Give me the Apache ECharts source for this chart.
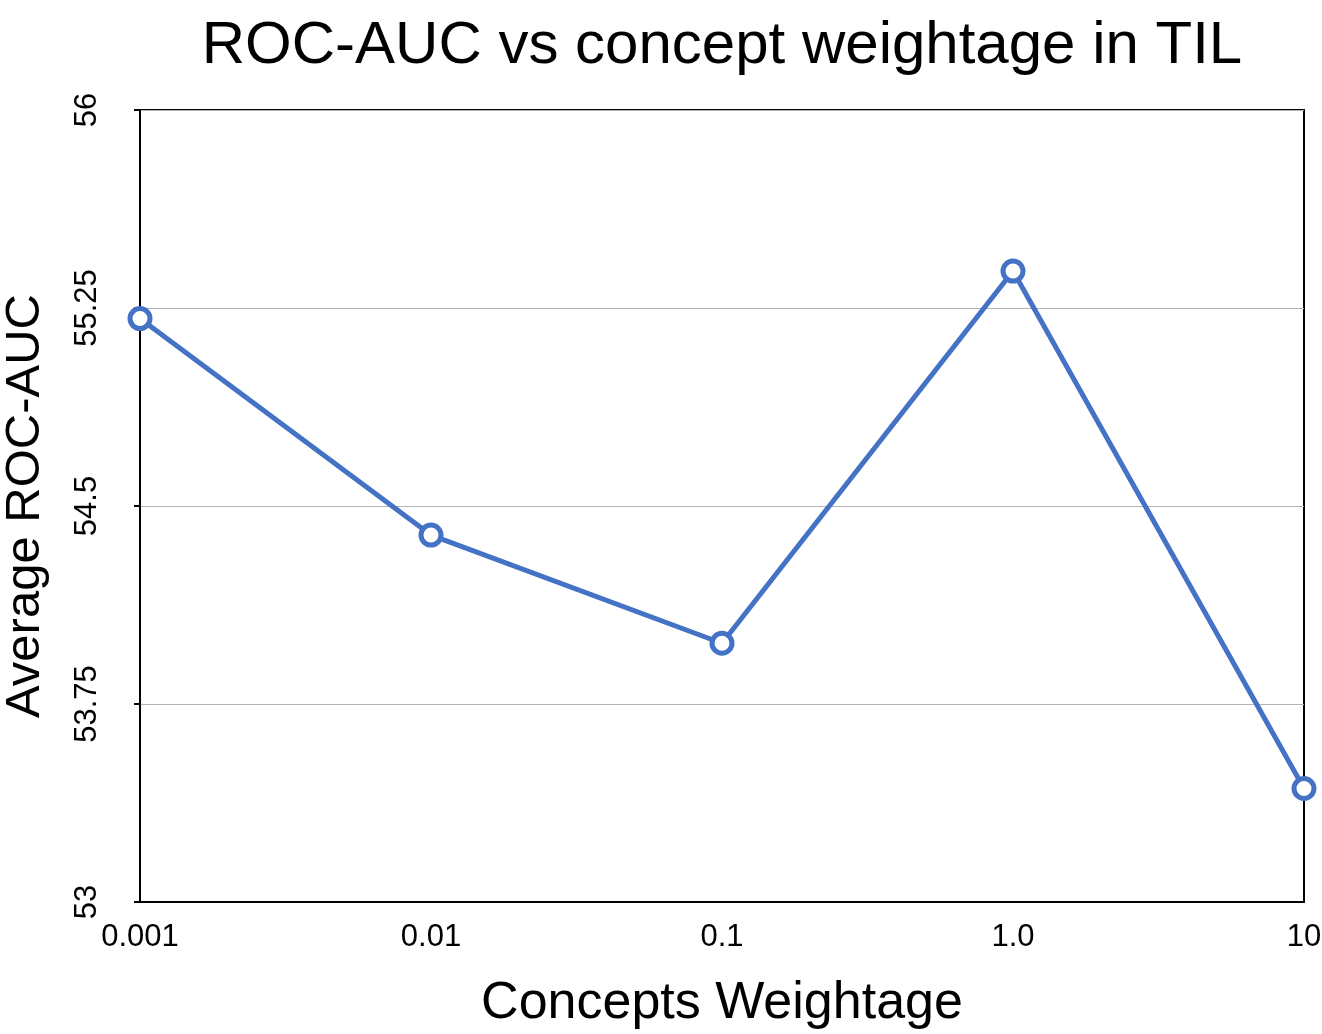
<!DOCTYPE html>
<html>
<head>
<meta charset="utf-8">
<title>ROC-AUC vs concept weightage in TIL</title>
<script src="https://cdn.jsdelivr.net/npm/echarts@6/dist/echarts.min.js"></script>
<style>
  html, body { margin: 0; padding: 0; background: #fff; }
  #chart { width: 1322px; height: 1034px; }
</style>
</head>
<body>
<div id="chart"></div>
<script>
const weightages = ['0.001', '0.01', '0.1', '1.0', '10']
const rocAuc = [55.21, 54.39, 53.98, 55.39, 53.43]
const yMin = 53
const yMax = 56
const yStep = 0.75

const FONT = '"Liberation Sans", Arial, Helvetica, sans-serif'
const lineColor = '#4472c4'

const chart = echarts.init(document.getElementById('chart'))

const option = {
  backgroundColor: '#fff',
  animation: false,
  title: {
    text: 'ROC-AUC vs concept weightage in TIL',
    left: 722,
    textAlign: 'center',
    top: 16,
    padding: 0,
    textStyle: { color: '#000', fontFamily: FONT, fontSize: 60, fontWeight: 'normal' }
  },
  grid: {
    left: 140,
    right: 18,
    top: 110,
    bottom: 132,
    outerBoundsMode: 'none',
    containLabel: false,
    show: true,
    borderColor: '#000',
    borderWidth: 2
  },
  xAxis: {
    type: 'category',
    data: weightages,
    boundaryGap: false,
    name: 'Concepts Weightage',
    nameLocation: 'middle',
    nameGap: 76,
    nameTextStyle: { color: '#000', fontFamily: FONT, fontSize: 52 },
    axisLine: { lineStyle: { color: '#000', width: 2 } },
    axisTick: { show: false },
    axisLabel: { color: '#000', fontFamily: FONT, fontSize: 31, margin: 20 },
    splitLine: { show: false }
  },
  yAxis: {
    type: 'value',
    min: yMin,
    max: yMax,
    interval: yStep,
    name: 'Average ROC-AUC',
    nameLocation: 'middle',
    nameGap: 90,
    nameTextStyle: { color: '#000', fontFamily: FONT, fontSize: 49 },
    axisLine: { show: true, lineStyle: { color: '#000', width: 2 } },
    axisTick: { show: true, length: 6, lineStyle: { color: '#000', width: 2 } },
    axisLabel: { color: '#000', fontFamily: FONT, fontSize: 31, rotate: 90, margin: 37 },
    splitLine: { lineStyle: { color: '#b3b3b3', width: 1 } }
  },
  series: [
    {
      name: 'ROC-AUC',
      type: 'line',
      data: rocAuc,
      symbol: 'circle',
      symbolSize: 20,
      showSymbol: true,
      lineStyle: { color: lineColor, width: 5 },
      itemStyle: { color: '#fff', borderColor: lineColor, borderWidth: 5 }
    }
  ]
}

chart.setOption(option)
window.addEventListener('resize', () => chart.resize())
</script>
</body>
</html>
